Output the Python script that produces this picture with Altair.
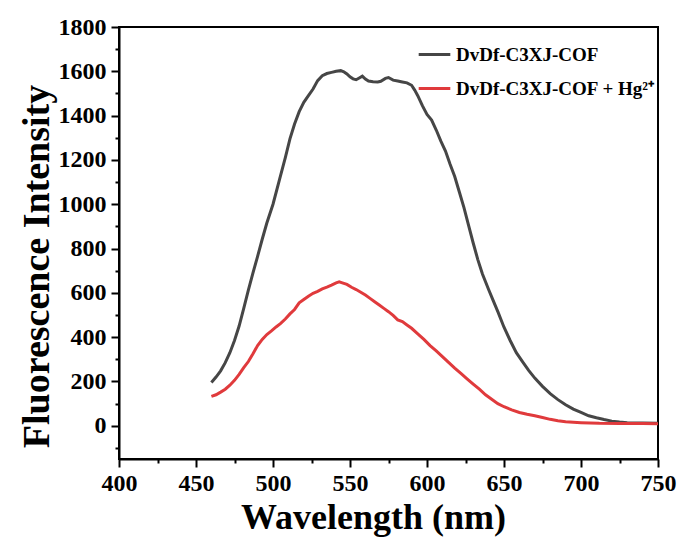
import altair as alt
import pandas as pd

# Emission spectrum of the COF alone (wavelength in nm, intensity)
cof_wl = [460, 463, 466, 469, 472, 475, 478, 481, 484, 487, 490, 493, 496, 500,
          504, 508, 511, 514, 517, 520, 523, 526, 529, 532, 535, 538, 541, 544,
          546, 548, 550, 552, 554, 556, 558, 560, 562, 565, 568, 570, 573, 575,
          578, 581, 584, 587, 590, 592, 594, 597, 600, 603, 606, 609, 612, 615,
          618, 621, 624, 627, 630, 633, 636, 640, 643, 646, 650, 654, 658, 662,
          666, 670, 675, 680, 685, 690, 695, 700, 705, 710, 715, 720, 725, 730,
          740, 750]
cof_int = [195, 220, 248, 285, 330, 385, 450, 530, 612, 690, 765, 842, 915, 1000,
           1105, 1210, 1295, 1362, 1418, 1460, 1490, 1520, 1558, 1580, 1590, 1595,
           1600, 1603, 1598, 1588, 1575, 1566, 1562, 1570, 1578, 1565, 1556, 1553,
           1552, 1555, 1568, 1572, 1560, 1556, 1552, 1548, 1537, 1515, 1490, 1445,
           1405, 1380, 1335, 1285, 1240, 1180, 1125, 1055, 985, 905, 825, 750, 685,
           615, 565, 515, 445, 385, 330, 290, 250, 215, 178, 145, 118, 95, 75, 60,
           45, 36, 28, 21, 17, 14, 12, 11]

# Emission spectrum after adding Hg2+
hg_wl = [460, 463, 466, 469, 472, 475, 478, 481, 484, 487, 490, 493, 496, 499,
         502, 505, 508, 511, 514, 517, 520, 523, 526, 529, 532, 535, 538, 541,
         543, 545, 548, 551, 554, 557, 560, 563, 566, 569, 572, 575, 578, 581,
         584, 587, 590, 594, 598, 602, 606, 610, 614, 618, 622, 626, 630, 634,
         638, 642, 646, 650, 655, 660, 665, 670, 675, 680, 685, 690, 700, 712,
         725, 740, 750]
hg_int = [133, 140, 152, 165, 183, 205, 232, 262, 290, 325, 362, 390, 412, 428,
          446, 462, 482, 505, 525, 555, 570, 585, 598, 607, 618, 626, 635, 645,
          650, 645, 638, 625, 615, 603, 590, 575, 560, 545, 530, 515, 498, 478,
          470, 455, 440, 415, 390, 362, 338, 312, 286, 260, 236, 212, 188, 165,
          140, 120, 100, 86, 72, 60, 52, 45, 37, 29, 23, 18, 14, 11, 10, 10, 9]

series_names = ["DvDf-C3XJ-COF", "DvDf-C3XJ-COF + Hg²⁺"]
series_colors = ["#464646", "#e03a3c"]

y_ticks = list(range(-100, 1801, 100))
x_ticks = list(range(400, 751, 25))

df = pd.concat([
    pd.DataFrame({"wl": cof_wl, "val": cof_int, "series": series_names[0]}),
    pd.DataFrame({"wl": hg_wl, "val": hg_int, "series": series_names[1]}),
])

FONT = "Liberation Serif"

x_enc = alt.X(
    "wl:Q",
    scale=alt.Scale(domain=[400, 750], nice=False),
    axis=alt.Axis(
        values=x_ticks,
        format="d",
        labelExpr="datum.value % 50 === 0 ? datum.label : ''",
        tickSize={"condition": {"test": "datum.value % 50 === 0", "value": 8}, "value": 4},
        labelFlush=False,
        labelOverlap=False,
        title="Wavelength (nm)",
        titleX=254,
        titleY=69,
        titleBaseline="alphabetic",
        titleFontSize=36,
        labelFontSize=24,
        labelPadding=4,
    ),
)
y_enc = alt.Y(
    "val:Q",
    scale=alt.Scale(domain=[-150, 1800], nice=False, zero=False),
    axis=alt.Axis(
        values=y_ticks,
        format="d",
        labelExpr="datum.value % 200 === 0 ? datum.label : ''",
        tickSize={"condition": {"test": "datum.value % 200 === 0", "value": 8}, "value": 4},
        labelFlush=False,
        labelOverlap=False,
        title="Fluorescence Intensity",
        titleX=-71,
        titleY=239,
        titleAngle=-90,
        titleAlign="center",
        titleBaseline="alphabetic",
        titleFontSize=38,
        labelFontSize=24,
        labelPadding=5,
    ),
)
color_enc = alt.Color(
    "series:N",
    scale=alt.Scale(domain=series_names, range=series_colors),
    sort=series_names,
    legend=alt.Legend(
        title=None,
        orient="none",
        legendX=298,
        legendY=10,
        symbolType="stroke",
        symbolSize=1000,
        symbolStrokeWidth=3,
        labelFontSize=19,
        labelFont=FONT,
        labelFontWeight="bold",
        labelColor="black",
        labelLimit=400,
        labelOffset=4,
        rowPadding=6,
        padding=0,
    ),
)

layers = []
for name in series_names:
    layers.append(
        alt.Chart(df)
        .transform_filter(alt.datum.series == name)
        .mark_line(strokeWidth=3, clip=True)
        .encode(x=x_enc, y=y_enc, color=color_enc)
    )

chart = (
    alt.layer(*layers)
    .properties(
        width=539,
        height=432,
        autosize=alt.AutoSizeParams(type="none"),
        padding={"left": 119, "top": 27, "right": 23, "bottom": 82},
        background="white",
    )
    .configure_view(stroke="black", strokeWidth=2)
    .configure_axis(
        grid=False,
        domainColor="black",
        domainWidth=2,
        tickColor="black",
        tickWidth=2,
        labelFont=FONT,
        labelFontWeight="bold",
        labelColor="black",
        titleFont=FONT,
        titleFontWeight="bold",
        titleColor="black",
    )
)

chart.save("out.html", embed_options={"renderer": "svg", "actions": False})
